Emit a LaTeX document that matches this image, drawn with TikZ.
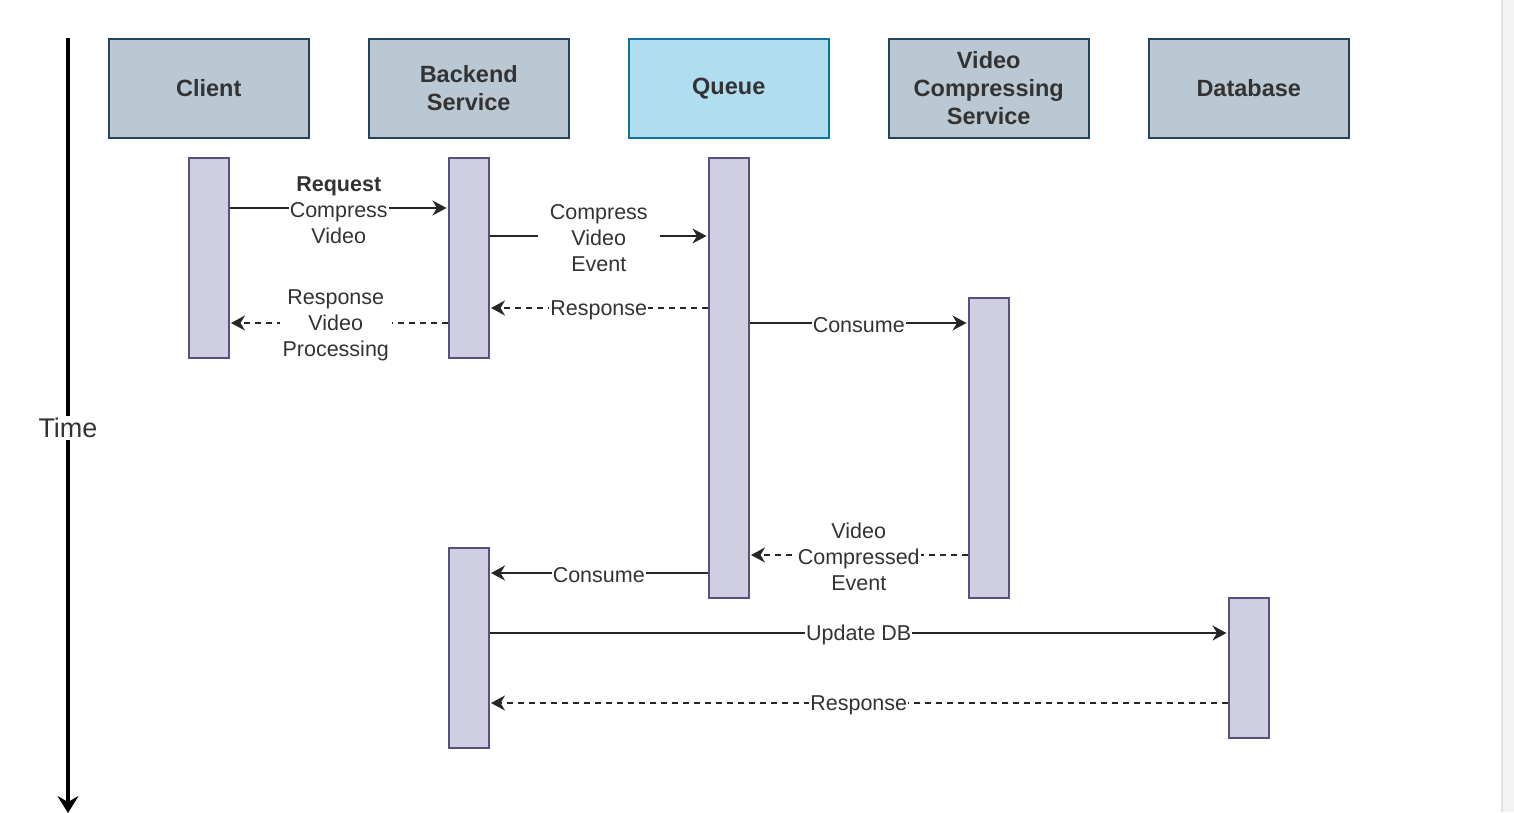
\documentclass[tikz,border=0pt]{standalone}
\usepackage{fontspec}
\setmainfont{Liberation Sans}
\usetikzlibrary{arrows.meta,calc}
\definecolor{hdrfill}{HTML}{BAC8D3}
\definecolor{hdrline}{HTML}{23445D}
\definecolor{qfill}{HTML}{B1DDF0}
\definecolor{qline}{HTML}{10739E}
\definecolor{actfill}{HTML}{D0CEE2}
\definecolor{actline}{HTML}{56517E}
\definecolor{txt}{HTML}{333333}
\definecolor{sbfill}{HTML}{F3F3F3}
\definecolor{sbline}{HTML}{E2E2E2}
\begin{document}
\begin{tikzpicture}[x=1pt,y=-1pt,
  header/.style={draw=hdrline,fill=hdrfill,line width=1.5pt,minimum width=200pt,minimum height=99pt,
    anchor=north west,align=center,inner sep=0pt,text=txt,font=\fontsize{23.5}{28}\selectfont\bfseries},
  qheader/.style={header,draw=qline,fill=qfill},
  act/.style={draw=actline,fill=actfill,line width=1.5pt,minimum width=40pt,anchor=north west,inner sep=0pt},
  lbl/.style={fill=white,inner sep=1pt,yshift=-2pt,align=center,text=txt,font=\fontsize{21.5}{26}\selectfont},
  msg/.style={line width=1.8pt,draw=black!85,shorten >=1.5pt,-{Stealth[length=14pt,width=15pt,inset=4.5pt]}},
  ret/.style={msg,dash pattern=on 6pt off 5pt}]
\useasboundingbox (0,0) rectangle (1514,812);
% scrollbar
\fill[sbfill] (1501,0) rectangle (1514,812);
\fill[sbline] (1501,0) rectangle (1503,812);

% time axis
\coordinate (t0) at (68,38);
\coordinate (t1) at (68,813);
\draw[line width=3.2pt,-{Stealth[length=17pt,width=21pt,inset=6pt]}] (t0) -- node[pos=0.503,fill=white,inner sep=2pt,text=txt,font=\fontsize{27}{30}\selectfont] (time) {Time} (t1);

% headers
\node[header] (client) at (108,38) {Client};
\node[header] (backend) at (368,38) {Backend\\Service};
\node[qheader] (queue) at (628,38) {Queue};
\node[header] (vcs) at (888,38) {Video\\Compressing\\Service};
\node[header] (db) at (1148,38) {Database};

% activations
\node[act,minimum height=200pt] (ca) at (188,157) {};
\node[act,minimum height=200pt] (ba1) at (448,157) {};
\node[act,minimum height=440pt] (qa) at (708,157) {};
\node[act,minimum height=300pt] (va) at (968,297) {};
\node[act,minimum height=200pt] (ba2) at (448,547) {};
\node[act,minimum height=140pt] (da) at (1228,597) {};

% messages
\draw[msg] ($(ca.north east)+(0,51)$) -- node[lbl]{\textbf{Request}\\Compress\\Video} ($(ba1.north west)+(0,51)$);
\draw[msg] ($(ba1.north east)+(0,79)$) -- node[lbl,inner xsep=12pt]{Compress\\Video\\Event} ($(qa.north west)+(0,79)$);
\draw[ret] ($(qa.north west)+(0,151)$) -- node[lbl]{Response} ($(ba1.north east)+(0,151)$);
\draw[ret] ($(ba1.north west)+(0,166)$) -- node[lbl,xshift=-3pt,inner xsep=3pt]{Response\\Video\\Processing} ($(ca.north east)+(0,166)$);
\draw[msg] ($(qa.north east)+(0,166)$) -- node[lbl]{Consume} ($(va.north west)+(0,26)$);
\draw[ret] ($(va.north west)+(0,258)$) -- node[lbl]{Video\\Compressed\\Event} ($(qa.north east)+(0,398)$);
\draw[msg] ($(qa.north west)+(0,416)$) -- node[lbl]{Consume} ($(ba2.north east)+(0,26)$);
\draw[msg] ($(ba2.north east)+(0,86)$) -- node[lbl]{Update DB} ($(da.north west)+(0,36)$);
\draw[ret] ($(da.north west)+(0,106)$) -- node[lbl]{Response} ($(ba2.north east)+(0,156)$);
\end{tikzpicture}
\end{document}
